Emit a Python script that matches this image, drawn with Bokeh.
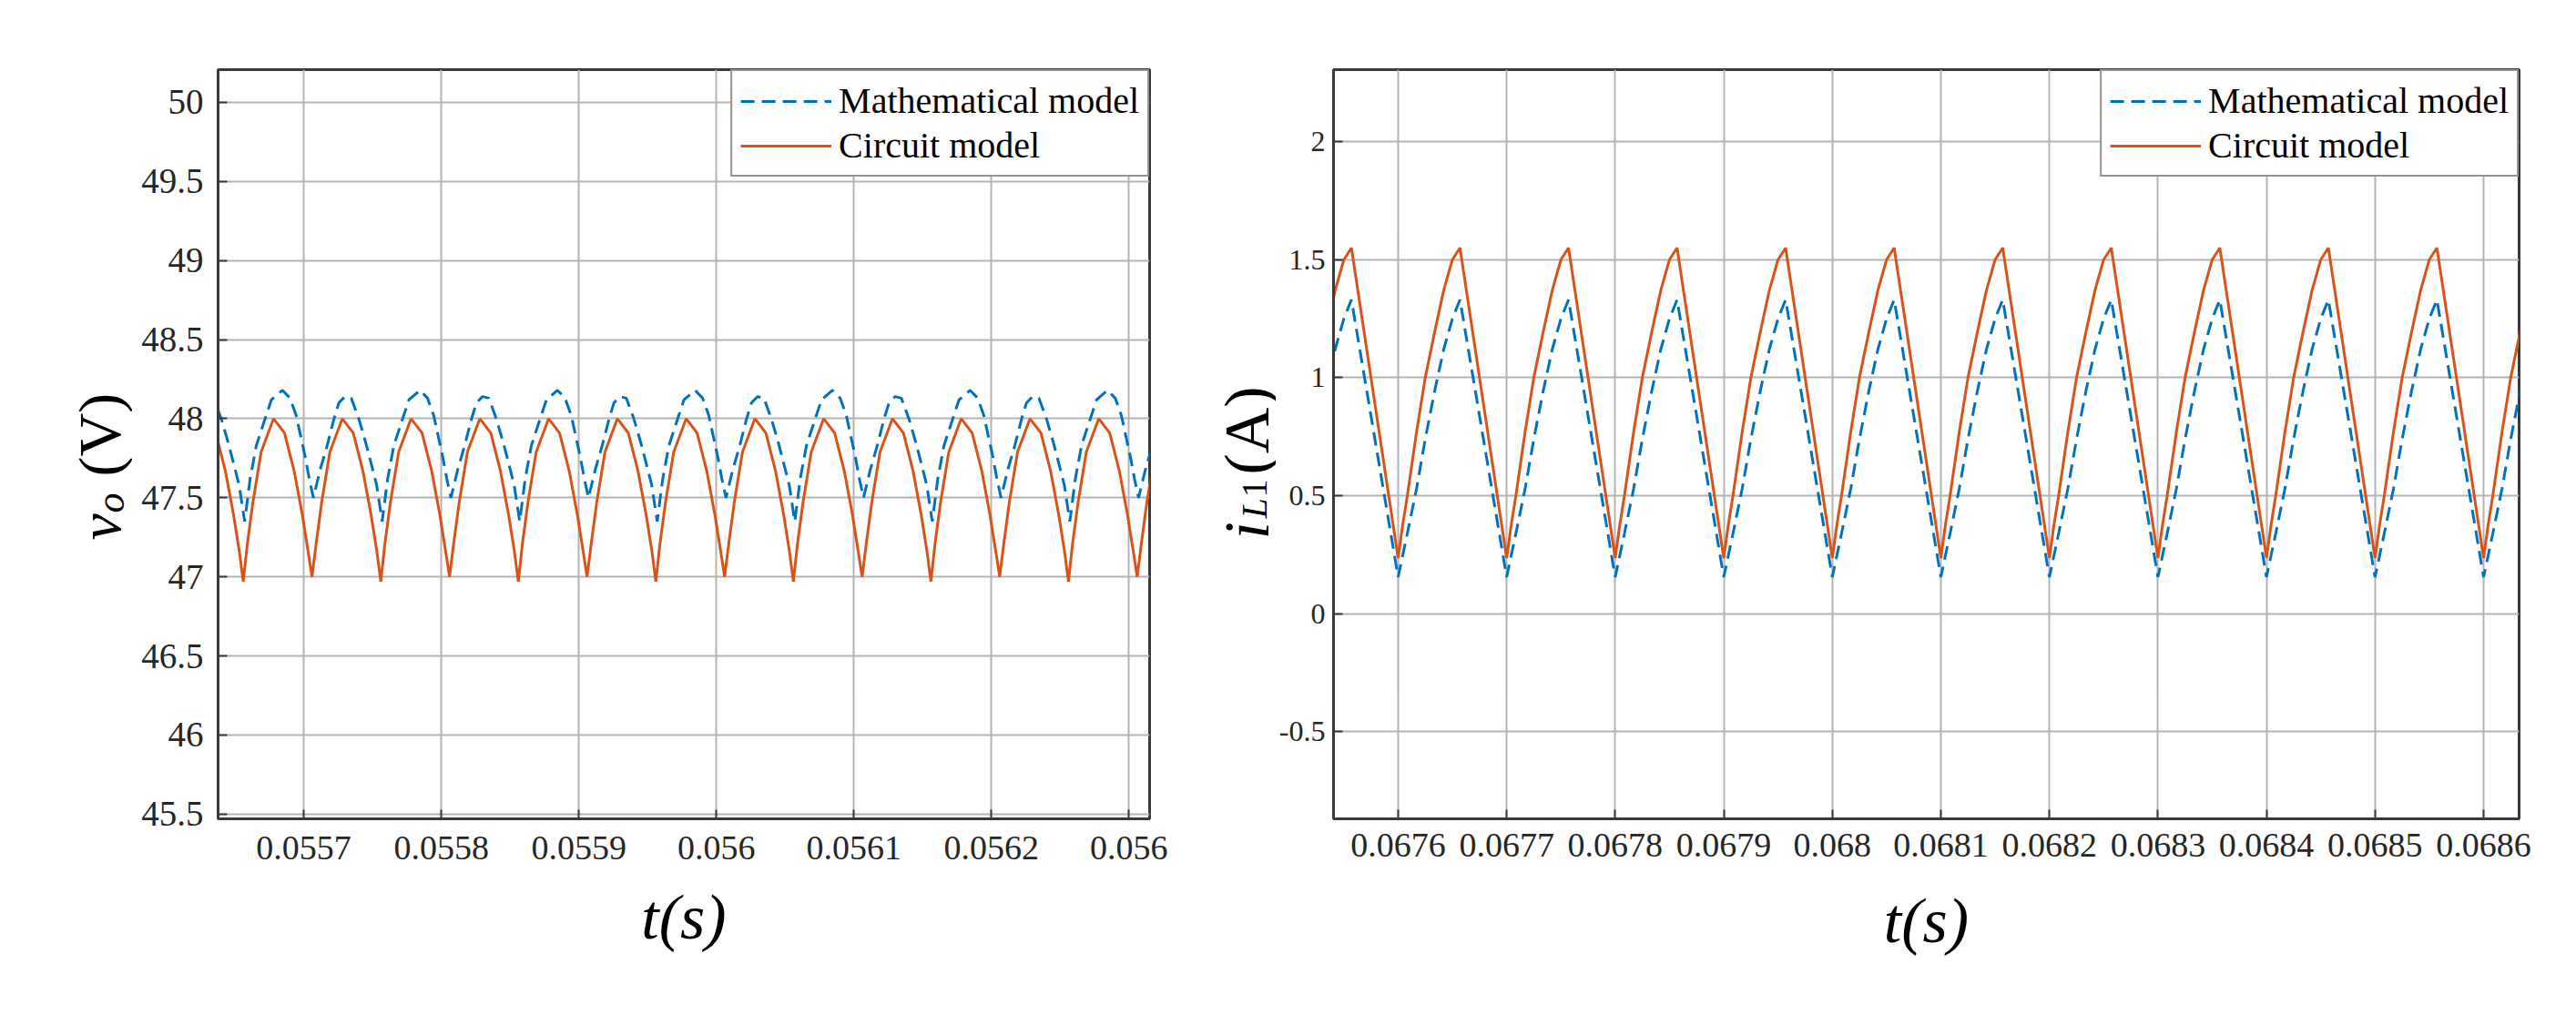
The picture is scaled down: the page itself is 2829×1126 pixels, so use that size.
import numpy as np
from bokeh.plotting import figure
from bokeh.models import Range1d, FixedTicker, Legend, LegendItem
from bokeh.core.properties import value
from bokeh.layouts import row
from bokeh.embed import file_html
from bokeh.resources import INLINE

# ======================= DATA =======================
series_labels = ["Mathematical model", "Circuit model"]

# ---- left panel: output voltage v_o (times in microseconds after VO_T0) ----
VO_T0 = 0.0556  # s
vo_circuit_t_us = [
    6, 9, 13, 19, 28, 36, 43, 49, 53,
    56, 59, 63, 69, 78, 86, 93, 99, 103,
    106, 109, 113, 119, 128, 136, 143, 149, 153,
    156, 159, 163, 169, 178, 186, 193, 199, 203,
    206, 209, 213, 219, 228, 236, 243, 249, 253,
    256, 259, 263, 269, 278, 286, 293, 299, 303,
    306, 309, 313, 319, 328, 336, 343, 349, 353,
    356, 359, 363, 369, 378, 386, 393, 399, 403,
    406, 409, 413, 419, 428, 436, 443, 449, 453,
    456, 459, 463, 469, 478, 486, 493, 499, 503,
    506, 509, 513, 519, 528, 536, 543, 549, 553,
    556, 559, 563, 569, 578, 586, 593, 599, 603,
    606, 609, 613, 619, 628, 636, 643, 649, 653,
    656, 659, 663, 669, 678, 686, 693, 699, 703,
    706, 709, 713, 719, 728,
]
vo_circuit_v = [
    47.00, 47.21, 47.47, 47.79, 48.00, 47.91, 47.67, 47.39, 47.17,
    46.97, 47.21, 47.47, 47.79, 48.00, 47.91, 47.67, 47.39, 47.17,
    47.00, 47.21, 47.47, 47.79, 48.00, 47.91, 47.67, 47.39, 47.17,
    46.97, 47.21, 47.47, 47.79, 48.00, 47.91, 47.67, 47.39, 47.17,
    47.00, 47.21, 47.47, 47.79, 48.00, 47.91, 47.67, 47.39, 47.17,
    46.97, 47.21, 47.47, 47.79, 48.00, 47.91, 47.67, 47.39, 47.17,
    47.00, 47.21, 47.47, 47.79, 48.00, 47.91, 47.67, 47.39, 47.17,
    46.97, 47.21, 47.47, 47.79, 48.00, 47.91, 47.67, 47.39, 47.17,
    47.00, 47.21, 47.47, 47.79, 48.00, 47.91, 47.67, 47.39, 47.17,
    46.97, 47.21, 47.47, 47.79, 48.00, 47.91, 47.67, 47.39, 47.17,
    47.00, 47.21, 47.47, 47.79, 48.00, 47.91, 47.67, 47.39, 47.17,
    46.97, 47.21, 47.47, 47.79, 48.00, 47.91, 47.67, 47.39, 47.17,
    47.00, 47.21, 47.47, 47.79, 48.00, 47.91, 47.67, 47.39, 47.17,
    46.97, 47.21, 47.47, 47.79, 48.00, 47.91, 47.67, 47.39, 47.17,
    47.00, 47.21, 47.47, 47.79, 48.00,
]
vo_math_t_us = [
    7, 12, 17, 22, 25.5, 30, 34.5, 40, 45, 49.5, 53,
    57, 61, 65.5, 71.5, 76.5, 84.5, 90, 94.5, 97.5, 101, 104,
    107, 112, 117, 122, 125.5, 130, 134.5, 140, 145, 149.5, 153,
    157, 161, 165.5, 171.5, 176.5, 184.5, 190, 194.5, 197.5, 201, 204,
    207, 212, 217, 222, 225.5, 230, 234.5, 240, 245, 249.5, 253,
    257, 261, 265.5, 271.5, 276.5, 284.5, 290, 294.5, 297.5, 301, 304,
    307, 312, 317, 322, 325.5, 330, 334.5, 340, 345, 349.5, 353,
    357, 361, 365.5, 371.5, 376.5, 384.5, 390, 394.5, 397.5, 401, 404,
    407, 412, 417, 422, 425.5, 430, 434.5, 440, 445, 449.5, 453,
    457, 461, 465.5, 471.5, 476.5, 484.5, 490, 494.5, 497.5, 501, 504,
    507, 512, 517, 522, 525.5, 530, 534.5, 540, 545, 549.5, 553,
    557, 561, 565.5, 571.5, 576.5, 584.5, 590, 594.5, 597.5, 601, 604,
    607, 612, 617, 622, 625.5, 630, 634.5, 640, 645, 649.5, 653,
    657, 661, 665.5, 671.5, 676.5, 684.5, 690, 694.5, 697.5, 701, 704,
    707, 712, 717, 722,
]
vo_math_v = [
    47.50, 47.68, 47.83, 48.00, 48.10, 48.14, 48.13, 48.00, 47.85, 47.70, 47.58,
    47.35, 47.62, 47.83, 47.99, 48.12, 48.18, 48.13, 48.02, 47.90, 47.76, 47.62,
    47.50, 47.68, 47.83, 48.00, 48.10, 48.14, 48.13, 48.00, 47.85, 47.70, 47.58,
    47.35, 47.62, 47.83, 47.99, 48.12, 48.18, 48.13, 48.02, 47.90, 47.76, 47.62,
    47.50, 47.68, 47.83, 48.00, 48.10, 48.14, 48.13, 48.00, 47.85, 47.70, 47.58,
    47.35, 47.62, 47.83, 47.99, 48.12, 48.18, 48.13, 48.02, 47.90, 47.76, 47.62,
    47.50, 47.68, 47.83, 48.00, 48.10, 48.14, 48.13, 48.00, 47.85, 47.70, 47.58,
    47.35, 47.62, 47.83, 47.99, 48.12, 48.18, 48.13, 48.02, 47.90, 47.76, 47.62,
    47.50, 47.68, 47.83, 48.00, 48.10, 48.14, 48.13, 48.00, 47.85, 47.70, 47.58,
    47.35, 47.62, 47.83, 47.99, 48.12, 48.18, 48.13, 48.02, 47.90, 47.76, 47.62,
    47.50, 47.68, 47.83, 48.00, 48.10, 48.14, 48.13, 48.00, 47.85, 47.70, 47.58,
    47.35, 47.62, 47.83, 47.99, 48.12, 48.18, 48.13, 48.02, 47.90, 47.76, 47.62,
    47.50, 47.68, 47.83, 48.00, 48.10, 48.14, 48.13, 48.00, 47.85, 47.70, 47.58,
    47.35, 47.62, 47.83, 47.99, 48.12, 48.18, 48.13, 48.02, 47.90, 47.76, 47.62,
    47.50, 47.68, 47.83, 48.00,
]
vo_xticks = [0.0557, 0.0558, 0.0559, 0.0560, 0.0561, 0.0562, 0.0563]
vo_xtick_labels = ["0.0557", "0.0558", "0.0559", "0.056", "0.0561", "0.0562", "0.056"]
vo_yticks = [45.5, 46, 46.5, 47, 47.5, 48, 48.5, 49, 49.5, 50]
vo_ytick_labels = ["45.5", "46", "46.5", "47", "47.5", "48", "48.5", "49", "49.5", "50"]
vo_xrange = (0.0556377, 0.0563150)
vo_yrange = (45.47, 50.207)

# ---- right panel: inductor current i_L1 (times in microseconds after IL_T0) ----
IL_T0 = 0.0675  # s
il_circuit_t_us = [
    0, 4, 8.5, 17, 25, 33.5, 42, 50, 57,
    100, 104, 108.5, 117, 125, 133.5, 142, 150, 157,
    200, 204, 208.5, 217, 225, 233.5, 242, 250, 257,
    300, 304, 308.5, 317, 325, 333.5, 342, 350, 357,
    400, 404, 408.5, 417, 425, 433.5, 442, 450, 457,
    500, 504, 508.5, 517, 525, 533.5, 542, 550, 557,
    600, 604, 608.5, 617, 625, 633.5, 642, 650, 657,
    700, 704, 708.5, 717, 725, 733.5, 742, 750, 757,
    800, 804, 808.5, 817, 825, 833.5, 842, 850, 857,
    900, 904, 908.5, 917, 925, 933.5, 942, 950, 957,
    1000, 1004, 1008.5, 1017, 1025, 1033.5, 1042, 1050, 1057,
    1100, 1104, 1108.5, 1117, 1125, 1133.5, 1142, 1150, 1157,
]
il_circuit_i = [
    0.236, 0.37, 0.50, 0.77, 1.00, 1.19, 1.37, 1.50, 1.55,
    0.236, 0.37, 0.50, 0.77, 1.00, 1.19, 1.37, 1.50, 1.55,
    0.236, 0.37, 0.50, 0.77, 1.00, 1.19, 1.37, 1.50, 1.55,
    0.236, 0.37, 0.50, 0.77, 1.00, 1.19, 1.37, 1.50, 1.55,
    0.236, 0.37, 0.50, 0.77, 1.00, 1.19, 1.37, 1.50, 1.55,
    0.236, 0.37, 0.50, 0.77, 1.00, 1.19, 1.37, 1.50, 1.55,
    0.236, 0.37, 0.50, 0.77, 1.00, 1.19, 1.37, 1.50, 1.55,
    0.236, 0.37, 0.50, 0.77, 1.00, 1.19, 1.37, 1.50, 1.55,
    0.236, 0.37, 0.50, 0.77, 1.00, 1.19, 1.37, 1.50, 1.55,
    0.236, 0.37, 0.50, 0.77, 1.00, 1.19, 1.37, 1.50, 1.55,
    0.236, 0.37, 0.50, 0.77, 1.00, 1.19, 1.37, 1.50, 1.55,
    0.236, 0.37, 0.50, 0.77, 1.00, 1.19, 1.37, 1.50, 1.55,
]
il_math_t_us = [
    0, 8.5, 17, 25, 33.5, 42, 50, 57,
    100, 108.5, 117, 125, 133.5, 142, 150, 157,
    200, 208.5, 217, 225, 233.5, 242, 250, 257,
    300, 308.5, 317, 325, 333.5, 342, 350, 357,
    400, 408.5, 417, 425, 433.5, 442, 450, 457,
    500, 508.5, 517, 525, 533.5, 542, 550, 557,
    600, 608.5, 617, 625, 633.5, 642, 650, 657,
    700, 708.5, 717, 725, 733.5, 742, 750, 757,
    800, 808.5, 817, 825, 833.5, 842, 850, 857,
    900, 908.5, 917, 925, 933.5, 942, 950, 957,
    1000, 1008.5, 1017, 1025, 1033.5, 1042, 1050, 1057,
    1100, 1108.5, 1117, 1125, 1133.5, 1142, 1150, 1157,
]
il_math_i = [
    0.155, 0.34, 0.53, 0.74, 0.94, 1.12, 1.25, 1.33,
    0.155, 0.34, 0.53, 0.74, 0.94, 1.12, 1.25, 1.33,
    0.155, 0.34, 0.53, 0.74, 0.94, 1.12, 1.25, 1.33,
    0.155, 0.34, 0.53, 0.74, 0.94, 1.12, 1.25, 1.33,
    0.155, 0.34, 0.53, 0.74, 0.94, 1.12, 1.25, 1.33,
    0.155, 0.34, 0.53, 0.74, 0.94, 1.12, 1.25, 1.33,
    0.155, 0.34, 0.53, 0.74, 0.94, 1.12, 1.25, 1.33,
    0.155, 0.34, 0.53, 0.74, 0.94, 1.12, 1.25, 1.33,
    0.155, 0.34, 0.53, 0.74, 0.94, 1.12, 1.25, 1.33,
    0.155, 0.34, 0.53, 0.74, 0.94, 1.12, 1.25, 1.33,
    0.155, 0.34, 0.53, 0.74, 0.94, 1.12, 1.25, 1.33,
    0.155, 0.34, 0.53, 0.74, 0.94, 1.12, 1.25, 1.33,
]
il_xticks = [0.0676, 0.0677, 0.0678, 0.0679, 0.0680, 0.0681, 0.0682, 0.0683, 0.0684, 0.0685, 0.0686]
il_xtick_labels = ["0.0676", "0.0677", "0.0678", "0.0679", "0.068", "0.0681",
                   "0.0682", "0.0683", "0.0684", "0.0685", "0.0686"]
il_yticks = [-0.5, 0, 0.5, 1, 1.5, 2]
il_ytick_labels = ["-0.5", "0", "0.5", "1", "1.5", "2"]
il_xrange = (0.0675405, 0.0686327)
il_yrange = (-0.869, 2.305)

# ======================= STYLE / LAYOUT =======================
SERIF = "Liberation Serif"
BLUE = "#0072BD"
ORANGE = "#D95319"
BOX = "#3a3a3a"
GRID = "#b4b4b4"
TICKTXT = "#262626"
H = 1126
TOP = 76          # common frame top (row layout aligns frames)
BOT = 227         # common bottom border (frame bottom at 899)
FRAME_BOTTOM = H - BOT


def make_panel(width, lr, xr, yr, xticks, xlabels, yticks, ylabels,
               xfs, yfs, xstand, ystand, xlab_stand):
    p = figure(width=width, height=H, output_backend="svg", toolbar_location=None,
               x_range=Range1d(*xr), y_range=Range1d(*yr),
               min_border_left=lr[0], min_border_right=lr[1],
               min_border_top=TOP, min_border_bottom=BOT)
    p.background_fill_color = "white"
    p.border_fill_color = "white"
    p.outline_line_color = BOX
    p.outline_line_width = 3
    xt = FixedTicker(ticks=xticks)
    yt = FixedTicker(ticks=yticks)
    p.xaxis.ticker = xt
    p.yaxis.ticker = yt
    p.xgrid.ticker = xt
    p.ygrid.ticker = yt
    p.xaxis.major_label_overrides = dict(zip(xticks, xlabels))
    p.yaxis.major_label_overrides = dict(zip(yticks, ylabels))
    for ax, fs, st in ((p.xaxis[0], xfs, xstand), (p.yaxis[0], yfs, ystand)):
        ax.axis_line_color = BOX
        ax.axis_line_width = 3
        ax.major_tick_in = 10
        ax.major_tick_out = 0
        ax.major_tick_line_color = BOX
        ax.major_tick_line_width = 2
        ax.minor_tick_line_color = None
        ax.major_label_text_font = SERIF
        ax.major_label_text_font_size = fs
        ax.major_label_text_color = TICKTXT
        ax.major_label_standoff = st
    xa = p.xaxis[0]
    xa.axis_label = "t(s)"
    xa.axis_label_text_font = SERIF
    xa.axis_label_text_font_style = "italic"
    xa.axis_label_text_font_size = "70px"
    xa.axis_label_text_color = "black"
    xa.axis_label_standoff = xlab_stand
    p.grid.grid_line_color = GRID
    p.grid.grid_line_width = 2
    return p


def add_series(p, t0, t_math_us, y_math, t_cir_us, y_cir):
    tm = t0 + np.array(t_math_us) * 1e-6
    tc = t0 + np.array(t_cir_us) * 1e-6
    r_cir = p.line(tc, y_cir, line_color=ORANGE, line_width=3)
    r_math = p.line(tm, y_math, line_color=BLUE, line_width=3, line_dash="15 8")
    leg = Legend(items=[LegendItem(label=series_labels[0], renderers=[r_math]),
                        LegendItem(label=series_labels[1], renderers=[r_cir])],
                 location="top_right", margin=0, padding=9, spacing=2,
                 glyph_width=100, glyph_height=46, label_height=46,
                 label_standoff=8, label_text_font=SERIF,
                 label_text_font_size="40px", label_text_color="black",
                 border_line_color="#262626", border_line_width=2,
                 background_fill_color="white", background_fill_alpha=1)
    p.add_layout(leg)


def make_strip(width):
    # blank panel holding the y-axis title; its frame uses pixel-like coordinates
    s = figure(width=width, height=H, output_backend="svg", toolbar_location=None,
               x_range=Range1d(0, width), y_range=Range1d(0, FRAME_BOTTOM - TOP),
               x_axis_location=None, y_axis_location=None,
               min_border_left=0, min_border_right=0,
               min_border_top=TOP, min_border_bottom=BOT)
    s.outline_line_color = None
    s.grid.visible = False
    s.background_fill_color = "white"
    s.border_fill_color = "white"
    return s


def vtext(s, x, page_y, txt, size, italic=False):
    s.text(x=[x], y=[FRAME_BOTTOM - page_y], text=[txt], angle=np.pi / 2,
           text_font=value(SERIF), text_font_size=value(size),
           text_font_style="italic" if italic else "normal",
           text_color="black", text_align="left", text_baseline="alphabetic")


# ---------------- left title strip: v_o (V) ----------------
sL = make_strip(145)
vtext(sL, 109, 593, "v", "66px", italic=True)
vtext(sL, 121, 563, "o", "44px", italic=True)
vtext(sL, 109, 523, "(V)", "66px")

# ---------------- left panel ----------------
p1 = make_panel(1139, (94, 22), vo_xrange, vo_yrange,
                vo_xticks, vo_xtick_labels, vo_yticks, vo_ytick_labels,
                "38px", "39px", 19, 16, 22)
add_series(p1, VO_T0, vo_math_t_us, vo_math_v, vo_circuit_t_us, vo_circuit_v)

# ---------------- right title strip: i_L1 (A) ----------------
sR = make_strip(117)
vtext(sR, 85, 592, "i", "70px", italic=True)
vtext(sR, 93, 569, "L", "40px", italic=True)
vtext(sR, 93, 546, "1", "40px")
vtext(sR, 85, 521, "(A)", "70px")

# ---------------- right panel ----------------
p2 = make_panel(1428, (62, 63), il_xrange, il_yrange,
                il_xticks, il_xtick_labels, il_yticks, il_ytick_labels,
                "38px", "32px", 16, 9, 29)
add_series(p2, IL_T0, il_math_t_us, il_math_i, il_circuit_t_us, il_circuit_i)

layout = row(sL, p1, sR, p2)
open("out.html", "w").write(file_html(layout, INLINE))
